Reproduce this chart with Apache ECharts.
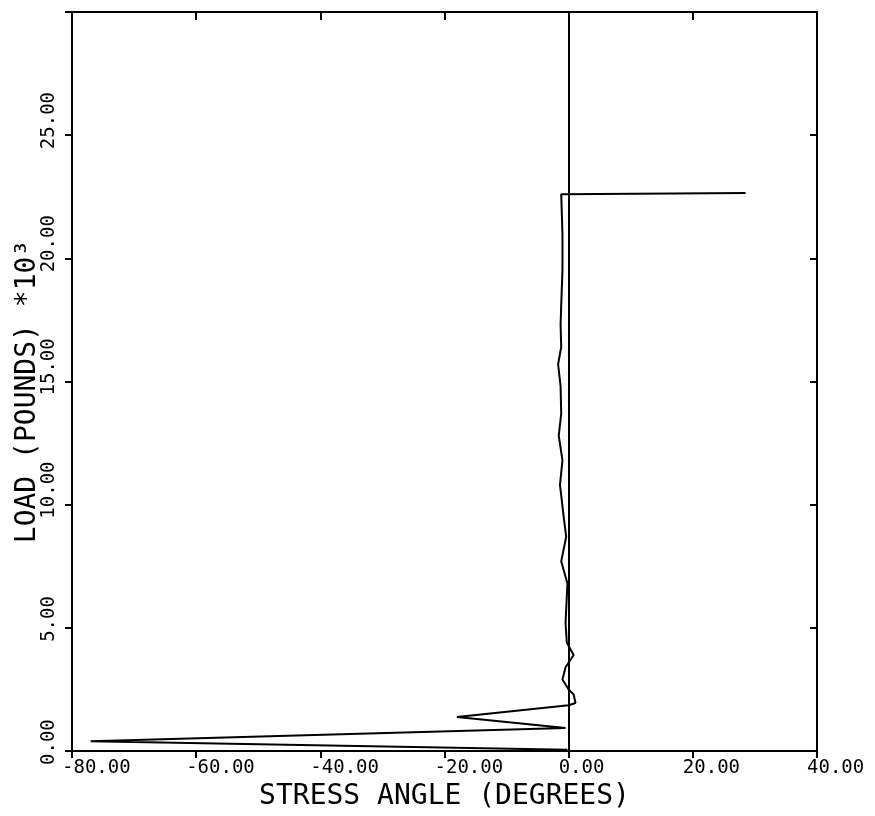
<!DOCTYPE html>
<html>
<head>
<meta charset="utf-8">
<script src="https://cdn.jsdelivr.net/npm/echarts@6/dist/echarts.min.js"></script>
<style>
  html, body { margin: 0; padding: 0; background: #fff; }
  #chart { width: 875px; height: 816px; }
</style>
</head>
<body>
<div id="chart"></div>
<script>
// stress angle (degrees) vs load (pounds * 10^3)
const stressAngle = [-0.2, -77, -0.5, -18, 0.0, 1.1, 0.8, 0.0, -1.0, -0.5, 0.8, -0.3, -0.5, -0.2,
  -1.2, -0.4, -0.8, -1.4, -1.0, -1.6, -1.2, -1.3, -1.7, -1.2, -1.3, -1.2, -1.0, -1.0, -1.2, 28.5];
const load = [0.05, 0.4, 0.93, 1.38, 1.86, 1.95, 2.3, 2.5, 2.9, 3.4, 3.9, 4.4, 5.2, 6.8,
  7.7, 8.7, 9.5, 10.8, 11.8, 12.8, 13.7, 14.8, 15.7, 16.4, 17.3, 18.1, 19.5, 21.0, 22.6, 22.65];

const xTicks = [-80, -60, -40, -20, 0, 20, 40];
const yTicks = [0, 5, 10, 15, 20, 25, 30];

const font = "DejaVu Sans Mono";

let points = stressAngle.map((x, i) => [x, load[i]]);

let myChart = echarts.init(document.getElementById("chart"));

let lineStyle = { color: "#000", width: 2 };

myChart.setOption({
  animation: false,
  backgroundColor: "#fff",
  grid: {
    left: 72,
    right: 58,
    top: 12,
    bottom: 65
  },
  xAxis: [
    {
      type: "value",
      min: xTicks[0],
      max: xTicks[xTicks.length - 1],
      interval: 20,
      name: "STRESS ANGLE (DEGREES)",
      nameLocation: "middle",
      nameGap: 30,
      nameTextStyle: { color: "#000", fontFamily: font, fontSize: 28 },
      splitLine: { show: false },
      axisLine: { onZero: false, lineStyle: lineStyle },
      axisTick: { inside: false, length: 7, lineStyle: lineStyle },
      axisLabel: {
        color: "#000",
        fontFamily: font,
        fontSize: 19,
        margin: 8,
        align: "left",
        padding: [0, 0, 0, -10],
        formatter: v => v.toFixed(2)
      }
    },
    {
      type: "value",
      position: "top",
      min: xTicks[0],
      max: xTicks[xTicks.length - 1],
      interval: 20,
      splitLine: { show: false },
      axisLine: { onZero: false, lineStyle: lineStyle },
      axisTick: { inside: true, length: 8, lineStyle: lineStyle },
      axisLabel: { show: false }
    }
  ],
  yAxis: [
    {
      type: "value",
      min: yTicks[0],
      max: yTicks[yTicks.length - 1],
      interval: 5,
      name: "LOAD (POUNDS) *10³",
      nameLocation: "middle",
      nameGap: 30,
      nameRotate: 90,
      nameMoveOverlap: false,
      nameTextStyle: {
        color: "#000",
        fontFamily: font,
        fontSize: 28,
        padding: [0, 20, 0, 0]
      },
      splitLine: { show: false },
      axisLine: { onZero: false, lineStyle: lineStyle },
      axisTick: { inside: false, length: 7, lineStyle: lineStyle },
      axisLabel: {
        color: "#000",
        fontFamily: font,
        fontSize: 19,
        rotate: 90,
        margin: 13,
        align: "left",
        padding: [0, 0, 0, -14],
        formatter: v => (v === 30 ? "" : v.toFixed(2))
      }
    },
    {
      type: "value",
      position: "right",
      min: yTicks[0],
      max: yTicks[yTicks.length - 1],
      interval: 5,
      splitLine: { show: false },
      axisLine: { onZero: false, lineStyle: lineStyle },
      axisTick: { inside: true, length: 7, lineStyle: lineStyle },
      axisLabel: { show: false }
    }
  ],
  series: [
    {
      type: "line",
      data: points,
      showSymbol: false,
      lineStyle: lineStyle,
      markLine: {
        silent: true,
        symbol: "none",
        label: { show: false },
        lineStyle: { color: "#000", width: 2, type: "solid" },
        data: [{ xAxis: 0 }]
      }
    }
  ]
});
</script>
</body>
</html>
